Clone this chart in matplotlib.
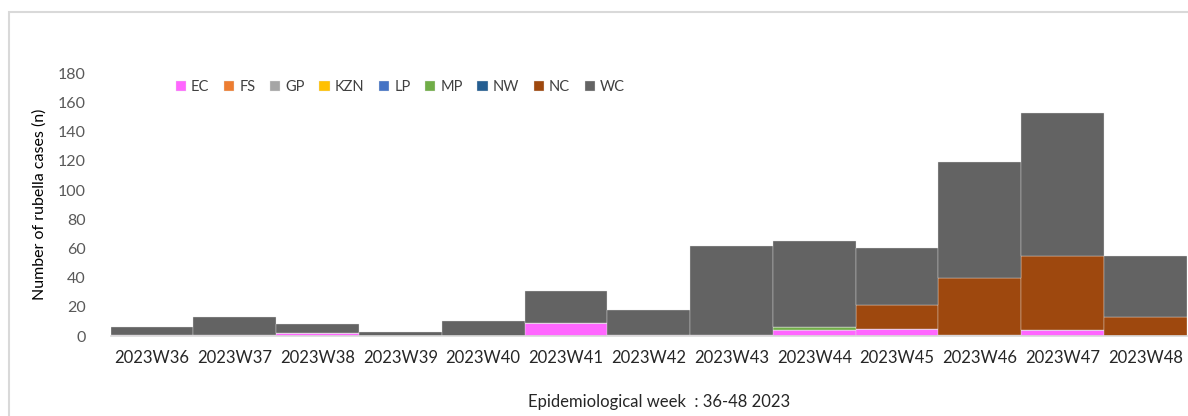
import matplotlib.pyplot as plt
import numpy as np
from matplotlib.patches import Rectangle

weeks = ["2023W36", "2023W37", "2023W38", "2023W39", "2023W40", "2023W41", "2023W42",
         "2023W43", "2023W44", "2023W45", "2023W46", "2023W47", "2023W48"]

EC = [1, 1, 2, 0, 0, 9, 1, 1, 4, 5, 1, 4, 0]
FS = [0] * 13
GP = [0] * 13
KZN = [0] * 13
LP = [0] * 13
MP = [0, 0, 0, 0, 0, 0, 0, 0, 2, 0, 0, 0, 0]
NW = [0] * 13
NC = [0, 0, 0, 0, 0, 0, 0, 0, 0, 16, 39, 51, 13]
WC = [5, 12, 6, 3, 10, 22, 17, 61, 59, 39, 79, 98, 42]

provinces = ["EC", "FS", "GP", "KZN", "LP", "MP", "NW", "NC", "WC"]
series = [EC, FS, GP, KZN, LP, MP, NW, NC, WC]
colors = ["#FF66FF", "#ED7D31", "#A5A5A5", "#FFC000", "#4472C4",
          "#70AD47", "#255E91", "#9E480E", "#636363"]

plt.rcParams['font.family'] = ['Lato', 'DejaVu Sans']

fig = plt.figure(figsize=(11.88, 4.16), dpi=100)
ax = fig.add_axes([0.0932, 0.1923, 0.9057, 0.6315])

x = np.arange(len(weeks))
bottom = np.zeros(len(weeks))
for name, vals, c in zip(provinces, series, colors):
    ax.bar(x, vals, width=1.0, bottom=bottom, color=c, label=name,
           edgecolor="#e6e6e6", linewidth=0.25)
    bottom += np.array(vals)

ax.set_xlim(-0.5, len(weeks) - 0.5)
ax.set_ylim(0, 180)
ax.set_yticks(range(0, 181, 20))
ax.set_xticks(x)
ax.set_xticklabels(weeks, fontsize=12, color="#262626")
ax.tick_params(axis="y", length=0, pad=18, labelsize=11.5, labelcolor="#595959")
ax.tick_params(axis="x", length=0, pad=10)
for s in ["top", "right", "left"]:
    ax.spines[s].set_visible(False)
ax.spines["bottom"].set_color("#d9d9d9")
ax.spines["bottom"].set_linewidth(1.2)

ax.set_ylabel("Number of rubella cases (n)", fontsize=11.5, color="black", labelpad=8)
fig.text(0.555, 0.033, "Epidemiological week  : 36-48 2023", ha="center",
         va="center", fontsize=12, color="#262626")

leg = fig.legend(loc="center", bbox_to_anchor=(0.337, 0.791), ncol=9, frameon=False,
                 fontsize=10.5, handlelength=0.7, handleheight=0.7,
                 handletextpad=0.35, columnspacing=1.0)
for t in leg.get_texts():
    t.set_color("#404040")

fig.patches.append(Rectangle((9 / 1188, -0.1), 1.2, (416 - 12) / 416 + 0.1,
                             transform=fig.transFigure, fill=False,
                             edgecolor="#d9d9d9", linewidth=1.5))

fig.savefig("out.png", dpi=100)
